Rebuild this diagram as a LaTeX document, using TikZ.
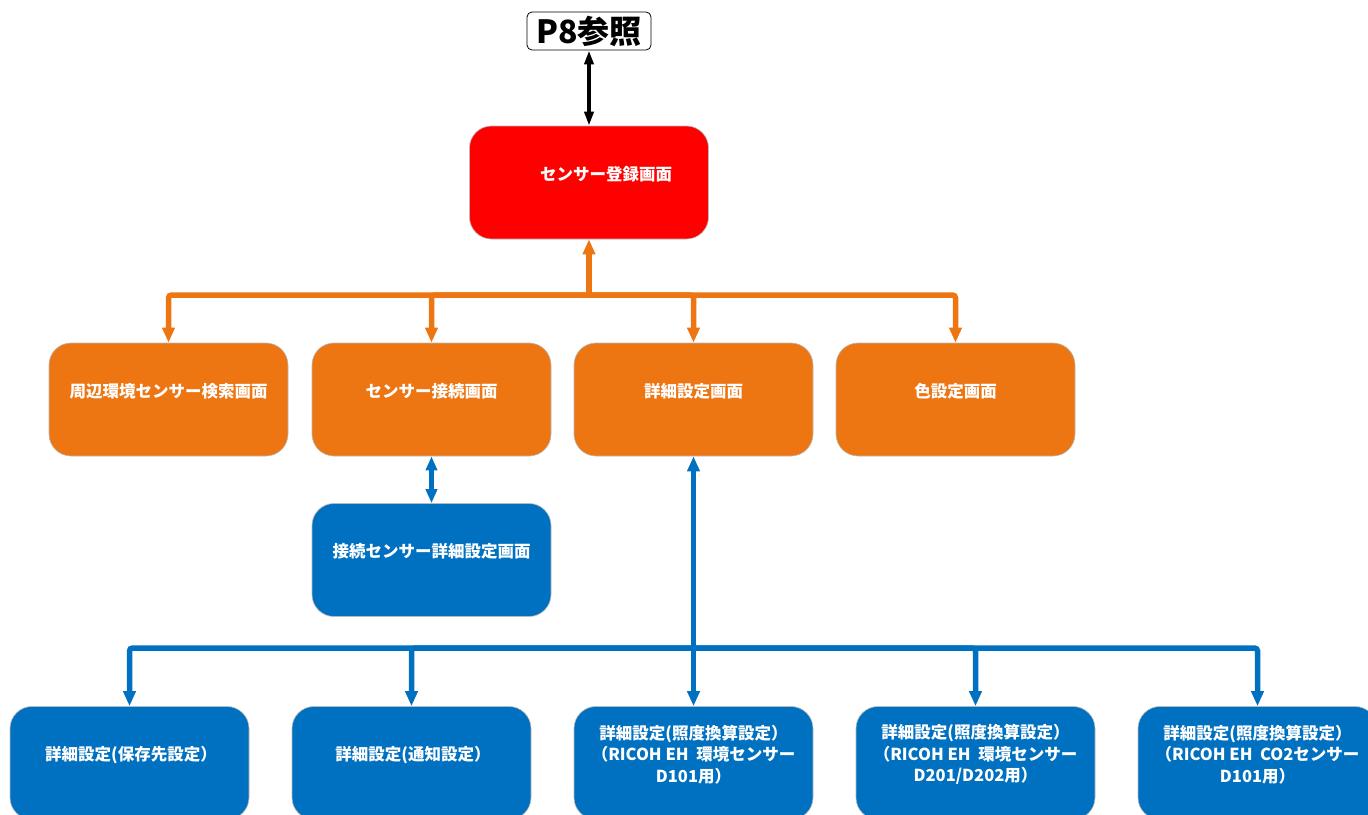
\documentclass[tikz,border=0pt]{standalone}
\usepackage{fontspec}
\newfontfamily\jp{Noto Sans CJK JP}
\usetikzlibrary{arrows.meta}
\definecolor{oOrange}{RGB}{237,117,18}
\definecolor{oBlue}{RGB}{0,112,192}
\definecolor{oRed}{RGB}{255,0,0}
\tikzset{
  box/.style={rounded corners=22pt, draw=gray!55, line width=0.6pt, minimum width=239pt, minimum height=113pt, inner sep=0pt},
  txt/.style={text=white, font=\jp\bfseries\fontsize{16.5}{21.5}\selectfont, align=center, inner sep=0pt},
  oline/.style={draw=oOrange, line width=5.5pt},
  bline/.style={draw=oBlue, line width=5.5pt},
  kline/.style={draw=black, line width=4.5pt},
  tip/.style={-{Triangle[length=15pt,width=12pt]}},
  tips/.style={{Triangle[length=14pt,width=11pt]}-{Triangle[length=14pt,width=11pt]}},
  ktips/.style={{Triangle[length=14pt,width=9pt]}-{Triangle[length=14pt,width=9pt]}}
}
\begin{document}
\begin{tikzpicture}[x=1pt,y=-1pt]
\useasboundingbox (0,0) rectangle (1368,814);
\clip (0,0) rectangle (1368,814);
% top reference
\node[draw=black, line width=0.8pt, rounded corners=5pt, minimum width=124pt, minimum height=38pt, inner sep=0pt, font=\jp\bfseries\fontsize{32}{34}\selectfont] (p8) at (589,31) {P8参照};
% red
\node[box, fill=oRed] (red) at (589,182.5) {};
\node[txt] (redt) at (606,174) {センサー登録画面};
% orange row
\node[box, fill=oOrange] (o1) at (168.5,399.5) {};
\node[box, fill=oOrange] (o2) at (431.5,399.5) {};
\node[box, fill=oOrange] (o3) at (693.5,399.5) {};
\node[box, fill=oOrange] (o4) at (955.5,399.5) {};
\node[txt] (o1t) at (168.5,391) {周辺環境センサー検索画面};
\node[txt] (o2t) at (431.5,391) {センサー接続画面};
\node[txt] (o3t) at (693.5,391) {詳細設定画面};
\node[txt] (o4t) at (955.5,391) {色設定画面};
% middle blue
\node[box, fill=oBlue] (m) at (431.5,560) {};
\node[txt] (mt) at (431.5,551) {接続センサー詳細設定画面};
% bottom blue
\node[box, fill=oBlue] (b1) at (129.5,763) {};
\node[box, fill=oBlue] (b2) at (411.5,763) {};
\node[box, fill=oBlue] (b3) at (693.5,763) {};
\node[box, fill=oBlue] (b4) at (975.5,763) {};
\node[box, fill=oBlue] (b5) at (1257.5,763) {};
\node[txt] (b1t) at (131,755) {詳細設定(保存先設定）};
\node[txt] (b2t) at (413,755) {詳細設定(通知設定）};
\node[txt] (b3t) at (693.5,754.5) {詳細設定(照度換算設定）\\（RICOH EH\ \ 環境センサー\\D101用）};
\node[txt] (b4t) at (975.5,754.5) {詳細設定(照度換算設定）\\（RICOH EH\ \ 環境センサー\\D201/D202用）};
\node[txt] (b5t) at (1257.5,754.5) {詳細設定(照度換算設定）\\（RICOH EH\ \ CO2センサー\\D101用）};
% connectors
\draw[kline, ktips] (p8.south) -- (red.north);
\coordinate (ob) at (589,295);
\draw[oline, tip] (ob) -- (red.south);
\draw[oline, tip, rounded corners=3pt] (ob) -| (o1.north);
\draw[oline, tip, rounded corners=3pt] (ob) -| (o2.north);
\draw[oline, tip, rounded corners=3pt] (ob) -| (o3.north);
\draw[oline, tip, rounded corners=3pt] (ob) -| (o4.north);
\draw[bline, tips] (o2.south) -- (m.north);
\coordinate (bb) at (693.5,648);
\draw[bline, tip] (bb) -- (o3.south);
\draw[bline, tip, rounded corners=3pt] (bb) -| (b1.north);
\draw[bline, tip, rounded corners=3pt] (bb) -| (b2.north);
\draw[bline, tip] (bb) -- (b3.north);
\draw[bline, tip, rounded corners=3pt] (bb) -| (b4.north);
\draw[bline, tip, rounded corners=3pt] (bb) -| (b5.north);
\end{tikzpicture}
\end{document}
